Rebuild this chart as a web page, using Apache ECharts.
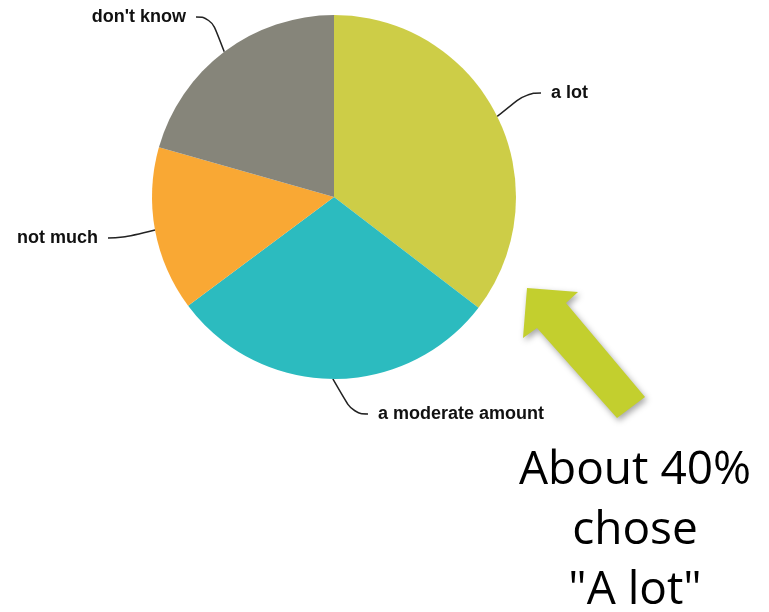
<!DOCTYPE html>
<html><head><meta charset="utf-8">
<script src="https://cdn.jsdelivr.net/npm/echarts@6/dist/echarts.min.js"></script>
<style>html,body{margin:0;padding:0;background:#fff}#c{width:769px;height:612px}</style>
</head><body><div id="c"></div>
<script>
const categories = ['a lot', 'a moderate amount', 'not much', "don't know"];
const values = [35.4, 29.4, 14.6, 20.6];
const colors = ['#cdcd47', '#2cbbbf', '#f9a834', '#86857a'];
const annotation = 'About 40%\nchose\n"A lot"';

// label anchor positions (layout only)
const labelPos = [
  {x: 541, y: 93, align: 'left'},
  {x: 368, y: 414, align: 'left'},
  {x: 108, y: 238, align: 'right'},
  {x: 196, y: 17, align: 'right'}
];

const chart = echarts.init(document.getElementById('c'), null, {renderer: 'canvas'});
chart.setOption({
  backgroundColor: '#ffffff',
  animation: false,
  series: [{
    type: 'pie',
    center: [334, 197],
    radius: 182,
    startAngle: 90,
    clockwise: true,
    data: categories.map((n, i) => ({name: n, value: values[i], itemStyle: {color: colors[i]}})),
    label: {
      show: true, position: 'outside',
      formatter: function (p) { return labelPos[p.dataIndex].align === 'left' ? '\u00a0\u00a0' + p.name : p.name + '\u00a0\u00a0'; },
      color: '#111', fontFamily: 'Liberation Sans', fontWeight: 'bold', fontSize: 18
    },
    labelLine: {show: true, smooth: 0.5, length: 20, length2: 15, lineStyle: {color: '#222', width: 1.5}},
    labelLayout: function (p) {
      const L = labelPos[p.dataIndex];
      return {x: L.x, y: L.y, align: L.align, verticalAlign: 'middle'};
    }
  }],
  graphic: [
    {
      type: 'polygon',
      shape: {points: [[527, 288], [578, 292], [566, 303], [645, 397], [617, 418], [537, 328], [523, 338]]},
      style: {fill: '#c3cf2e', shadowBlur: 6, shadowColor: 'rgba(0,0,0,0.35)', shadowOffsetX: 2, shadowOffsetY: 3}
    },
    {
      type: 'text', x: 635, y: 441,
      style: {text: annotation, fill: '#000', font: '46px "Open Sans"', textAlign: 'center', textVerticalAlign: 'top', lineHeight: 60}
    }
  ]
});
</script></body></html>
